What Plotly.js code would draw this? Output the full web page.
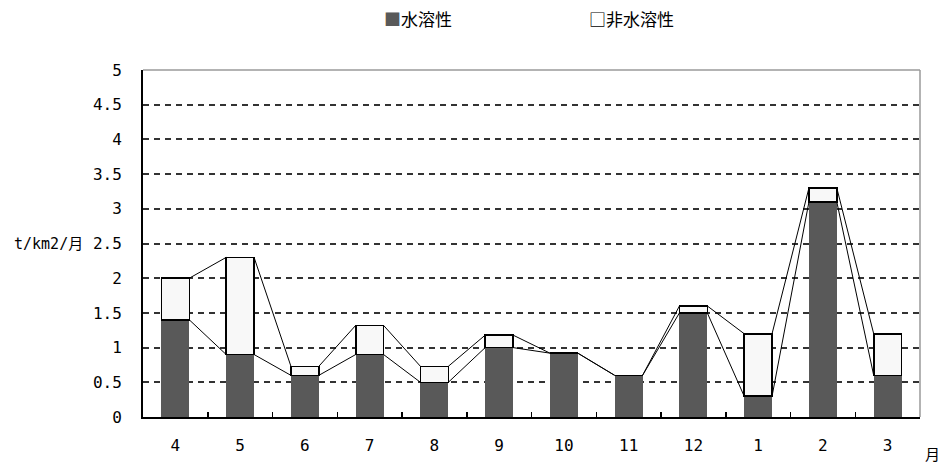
<!DOCTYPE html>
<html>
<head>
<meta charset="utf-8">
<script src="https://cdn.plot.ly/plotly-3.0.1.min.js"></script>
<style>
  html, body { margin: 0; padding: 0; background: #fff; }
  #chart { width: 944px; height: 463px; }
</style>
</head>
<body>
<div id="chart"></div>
<script>
// Monthly deposition (t/km2/月), April through March
const months = ['4', '5', '6', '7', '8', '9', '10', '11', '12', '1', '2', '3'];
const soluble = [1.4, 0.9, 0.6, 0.9, 0.5, 1.0, 0.92, 0.6, 1.5, 0.3, 3.1, 0.6];
const insoluble = [0.6, 1.4, 0.13, 0.42, 0.23, 0.18, 0, 0, 0.1, 0.9, 0.2, 0.6];
const yTicks = [0, 0.5, 1, 1.5, 2, 2.5, 3, 3.5, 4, 4.5, 5];
const seriesNames = ['水溶性', '非水溶性'];

const BAR_W = 0.43;
const DARK = '#595959';
const LIGHT = '#f8f8f8';

const idx = months.map((_, i) => i);
const totals = soluble.map((v, i) => v + insoluble[i]);

// Series lines: join the top of each stack level from the right edge
// of one column to the left edge of the next.
function seriesLine(levels) {
  const xs = [], ys = [];
  for (let i = 0; i < levels.length - 1; i++) {
    xs.push(i + BAR_W / 2, i + 1 - BAR_W / 2, null);
    ys.push(levels[i], levels[i + 1], null);
  }
  return { xs, ys };
}
const lineSol = seriesLine(soluble);
const lineTot = seriesLine(totals);

const traces = [
  {
    type: 'bar', name: seriesNames[0], x: idx, y: soluble, width: BAR_W,
    marker: { color: DARK, line: { width: 0 } }, hoverinfo: 'y', showlegend: false
  },
  {
    type: 'bar', name: seriesNames[1], x: idx, y: insoluble, width: BAR_W,
    marker: { color: LIGHT, line: { color: '#000', width: 1.6 } }, hoverinfo: 'y', showlegend: false
  },
  {
    type: 'scatter', mode: 'lines', x: lineSol.xs, y: lineSol.ys,
    line: { color: '#000', width: 1 }, hoverinfo: 'skip', showlegend: false
  },
  {
    type: 'scatter', mode: 'lines', x: lineTot.xs, y: lineTot.ys,
    line: { color: '#000', width: 1 }, hoverinfo: 'skip', showlegend: false
  }
];

const tickFont = { family: 'DejaVu Sans Mono, monospace', size: 16, color: '#000' };
const jpFont = { family: 'Noto Sans CJK JP, sans-serif', size: 17, color: '#000' };

const layout = {
  width: 944, height: 463,
  margin: { l: 143, r: 24, t: 70, b: 46 },
  paper_bgcolor: '#fff', plot_bgcolor: '#fff',
  barmode: 'stack',
  showlegend: false,
  xaxis: {
    range: [-0.5, months.length - 0.5],
    tickmode: 'array', tickvals: idx, ticktext: months,
    ticks: '', ticklabelstandoff: 13,
    tickfont: tickFont,
    showgrid: false, zeroline: false,
    showline: true, linecolor: '#000', linewidth: 2,
    minor: { tickmode: 'array', tickvals: idx.slice(0, -1).map(i => i + 0.5),
             ticks: 'inside', ticklen: 5, tickwidth: 1.5, tickcolor: '#000', showgrid: false },
    fixedrange: true
  },
  yaxis: {
    range: [0, 5],
    tickmode: 'array', tickvals: yTicks, ticktext: yTicks.map(String),
    ticks: '', ticklabelstandoff: 16,
    tickfont: tickFont,
    showgrid: true, gridcolor: '#333', gridwidth: 2, griddash: '6px,5px',
    zeroline: false,
    showline: true, linecolor: '#000', linewidth: 2,
    fixedrange: true
  },
  shapes: [
    { type: 'line', xref: 'paper', yref: 'paper', x0: 0, x1: 1, y0: 1, y1: 1,
      line: { color: '#9a9a9a', width: 1.5 } },
    { type: 'line', xref: 'paper', yref: 'paper', x0: 1, x1: 1, y0: 0, y1: 1,
      line: { color: '#9a9a9a', width: 1.5 } }
  ],
  annotations: [
    { text: 't/km2/月', xref: 'paper', yref: 'y', x: -0.169, y: 2.5,
      xanchor: 'left', yanchor: 'middle', showarrow: false,
      font: { family: 'DejaVu Sans Mono, Noto Sans CJK JP, monospace', size: 15, color: '#000' } },
    { text: '月', xref: 'paper', yref: 'paper', x: 1.016, y: -0.104,
      xanchor: 'center', yanchor: 'middle', showarrow: false,
      font: { family: 'Noto Sans CJK JP, sans-serif', size: 15, color: '#000' } },
    { text: '<span style="color:' + DARK + '">■</span>' + seriesNames[0],
      xref: 'paper', yref: 'paper', x: 0.307, y: 1.147,
      xanchor: 'left', yanchor: 'middle', showarrow: false, font: jpFont },
    { text: '□' + seriesNames[1],
      xref: 'paper', yref: 'paper', x: 0.572, y: 1.147,
      xanchor: 'left', yanchor: 'middle', showarrow: false, font: jpFont }
  ]
};

Plotly.newPlot('chart', traces, layout, { displayModeBar: false, staticPlot: true });
</script>
</body>
</html>
